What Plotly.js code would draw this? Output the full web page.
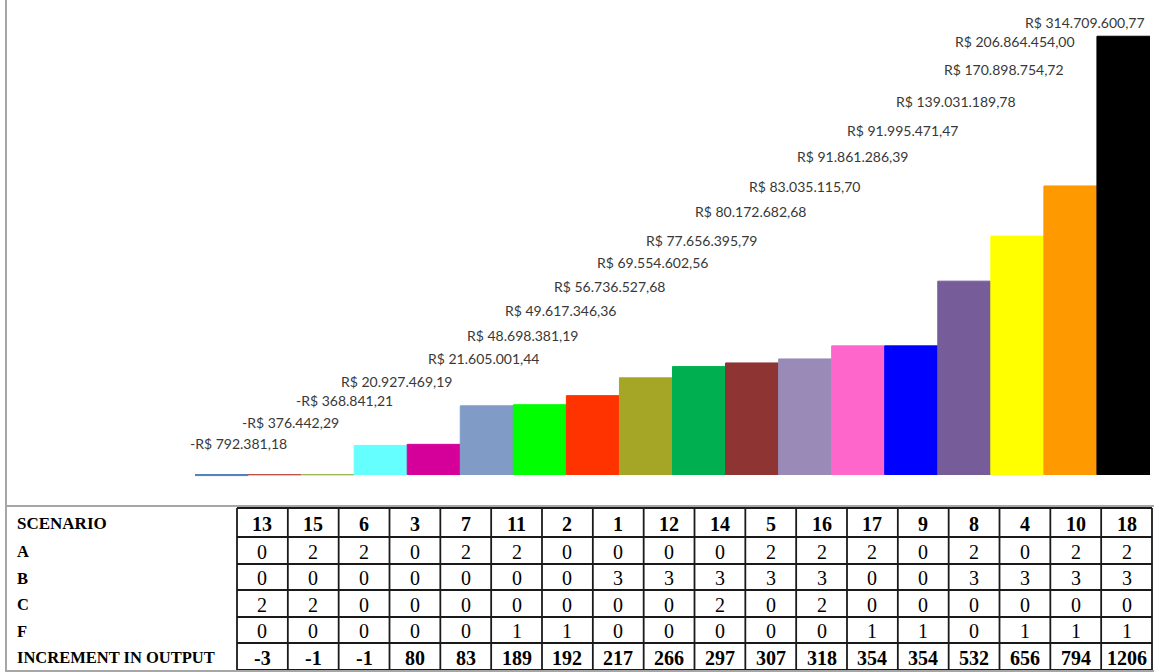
<!DOCTYPE html>
<html>
<head>
<meta charset="utf-8">
<script src="https://cdn.plot.ly/plotly-3.0.1.min.js"></script>
<style>
  html, body { margin: 0; padding: 0; background: #ffffff; }
  #chart { width: 1154px; height: 672px; }
</style>
</head>
<body>
<div id="chart"></div>
<script>
// Scenarios, ordered by increment in output
const scenarios = ['13', '15', '6', '3', '7', '11', '2', '1', '12', '14', '5', '16', '17', '9', '8', '4', '10', '18'];
const factorA = [0, 2, 2, 0, 2, 2, 0, 0, 0, 0, 2, 2, 2, 0, 2, 0, 2, 2];
const factorB = [0, 0, 0, 0, 0, 0, 0, 3, 3, 3, 3, 3, 0, 0, 3, 3, 3, 3];
const factorC = [2, 2, 0, 0, 0, 0, 0, 0, 0, 2, 0, 2, 0, 0, 0, 0, 0, 0];
const factorF = [0, 0, 0, 0, 0, 1, 1, 0, 0, 0, 0, 0, 1, 1, 0, 1, 1, 1];
const increment = [-3, -1, -1, 80, 83, 189, 192, 217, 266, 297, 307, 318, 354, 354, 532, 656, 794, 1206];
const resultBRL = [-792381.18, -376442.29, -368841.21, 20927469.19, 21605001.44, 48698381.19,
  49617346.36, 56736527.68, 69554602.56, 77656395.79, 80172682.68, 83035115.70,
  91861286.39, 91995471.47, 139031189.78, 170898754.72, 206864454.00, 314709600.77];
const headerLabel = 'SCENARIO';
const rowLabels = ['A', 'B', 'C', 'F', 'INCREMENT IN OUTPUT'];

// Styling
const barColors = ['#4F81BD', '#C0504D', '#9BBB59', '#66FFFF', '#D5009A', '#7F9BC6', '#00FF00',
  '#FF3300', '#A6A626', '#00B050', '#8E3433', '#9A8AB7', '#FF66CC', '#0000FF', '#765C98',
  '#FFFF00', '#FF9900', '#000000'];
// Label placement: [horizontal shift px, rise above baseline px]
const labelPlacement = [[17, 31], [16, 52], [17, 74], [16, 93], [50, 116], [36, 139], [21, 164],
  [17, 188], [7, 212], [2, 234], [-2, 263], [-1, 288], [-6, 318], [-9, 344], [-8, 373],
  [-13, 405], [-55, 433], [-38, 452]];

const W = 1154, H = 672;
const px = v => v / W;
const py = v => 1 - v / H;

function brl(v) {
  const neg = v < 0;
  const parts = Math.abs(v).toFixed(2).split('.');
  const intPart = parts[0].replace(/\B(?=(\d{3})+(?!\d))/g, '.');
  return (neg ? '-' : '') + 'R$ ' + intPart + ',' + parts[1];
}

const bars = {
  type: 'bar',
  x: scenarios,
  y: increment,
  marker: { color: barColors, line: { color: barColors, width: 1 } },
  hoverinfo: 'x+y',
  showlegend: false
};

// Value labels above the bars, laid out as a staircase
const annotations = scenarios.map((s, i) => ({
  x: i, y: 0, xref: 'x', yref: 'y',
  text: brl(resultBRL[i]),
  showarrow: false,
  xanchor: 'center', yanchor: 'middle',
  xshift: labelPlacement[i][0],
  yshift: labelPlacement[i][1],
  font: { family: 'Lato, Open Sans, sans-serif', size: 14, color: '#383838' }
}));

// Data table under the plot
const tableLeft = 7, firstColRight = 237, tableRight = 1152;
const rowEdges = [508, 537, 564, 590, 617, 643, 670];
const colW = (tableRight - firstColRight) / scenarios.length;
const serif = 'Liberation Serif, Times New Roman, serif';
const gridLine = { color: '#1a1a1a', width: 1.8 };
const shapes = [];

rowEdges.forEach(y => shapes.push({
  type: 'line', xref: 'paper', yref: 'paper',
  x0: px(firstColRight), x1: px(tableRight), y0: py(y), y1: py(y), line: gridLine
}));
for (let k = 0; k <= scenarios.length; k++) {
  const x = firstColRight + k * colW;
  shapes.push({
    type: 'line', xref: 'paper', yref: 'paper',
    x0: px(x), x1: px(x), y0: py(rowEdges[0]), y1: py(rowEdges[rowEdges.length - 1]), line: gridLine
  });
}

const tableRows = [
  { label: headerLabel, values: scenarios, bold: true },
  { label: rowLabels[0], values: factorA, bold: false },
  { label: rowLabels[1], values: factorB, bold: false },
  { label: rowLabels[2], values: factorC, bold: false },
  { label: rowLabels[3], values: factorF, bold: false },
  { label: rowLabels[4], values: increment, bold: true }
];
tableRows.forEach((row, r) => {
  const yMid = (rowEdges[r] + rowEdges[r + 1]) / 2 + 1;
  annotations.push({
    xref: 'paper', yref: 'paper', x: px(tableLeft + 8), y: py(yMid),
    xanchor: 'left', yanchor: 'middle', showarrow: false,
    text: '<b>' + row.label + '</b>',
    font: { family: serif, size: r === 0 ? 17 : 16.5, color: '#000000' }
  });
  row.values.forEach((v, i) => {
    const xMid = firstColRight + (i + 0.5) * colW;
    annotations.push({
      xref: 'paper', yref: 'paper', x: px(xMid), y: py(yMid),
      xanchor: 'center', yanchor: 'middle', showarrow: false,
      text: row.bold ? '<b>' + v + '</b>' : String(v),
      font: { family: serif, size: 20, color: '#000000' }
    });
  });
});

// Grey frame around the plot area and the table
const frame = { color: '#a6a6a6', width: 2 };
shapes.push(
  { type: 'line', xref: 'paper', yref: 'paper', x0: px(6), x1: px(6), y0: py(0), y1: py(671), line: frame },
  { type: 'line', xref: 'paper', yref: 'paper', x0: px(5), x1: 1, y0: py(506), y1: py(506), line: frame },
  { type: 'line', xref: 'paper', yref: 'paper', x0: px(5), x1: 1, y0: py(671), y1: py(671), line: frame }
);

const layout = {
  width: W, height: H,
  margin: { l: 0, r: 0, t: 0, b: 0 },
  paper_bgcolor: '#ffffff',
  plot_bgcolor: '#ffffff',
  bargap: 0,
  xaxis: {
    type: 'category',
    domain: [px(195), px(1150)],
    range: [-0.5, 17.5],
    showticklabels: false, showgrid: false, zeroline: false, showline: false, ticks: ''
  },
  yaxis: {
    domain: [py(490), py(10)],
    range: [-42.65, 1278.2],
    showticklabels: false, showgrid: false, zeroline: false, showline: false, ticks: ''
  },
  annotations: annotations,
  shapes: shapes,
  showlegend: false
};

Plotly.newPlot('chart', [bars], layout, { displayModeBar: false, staticPlot: true });
</script>
</body>
</html>
